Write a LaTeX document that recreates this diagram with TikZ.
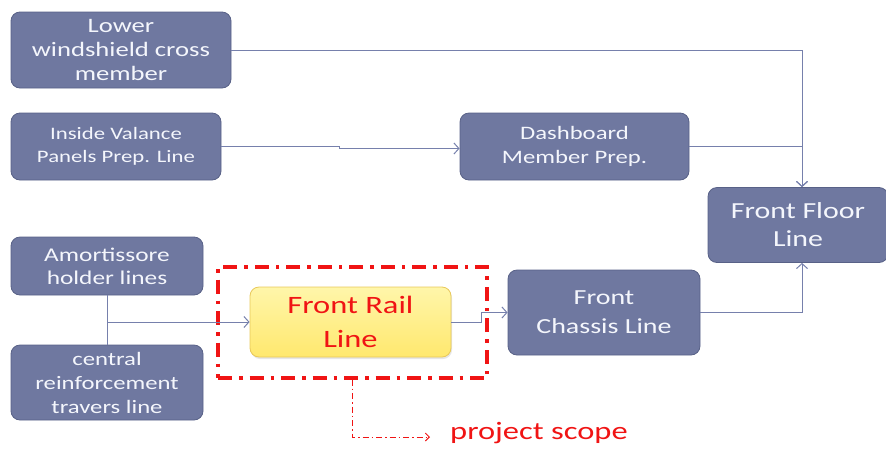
\documentclass[tikz,border=0pt]{standalone}
\usepackage{fontspec}
\setmainfont{Carlito}[FakeStretch=1.3]
\usetikzlibrary{arrows.meta,shadows}
\definecolor{boxfill}{RGB}{111,120,160}
\definecolor{boxedge}{RGB}{88,97,135}
\definecolor{boxtext}{RGB}{244,246,252}
\definecolor{flowc}{RGB}{118,128,172}
\definecolor{railtop}{RGB}{255,246,170}
\definecolor{railbot}{RGB}{255,232,110}
\definecolor{railedge}{RGB}{232,200,90}
\definecolor{scopered}{RGB}{240,20,20}
\tikzset{
  proc/.style={draw=boxedge, fill=boxfill, rounded corners=9pt, line width=0.8pt,
    text=boxtext, align=center, inner sep=0pt},
  rail/.style={draw=railedge, top color=railtop, bottom color=railbot, rounded corners=9pt,
    line width=0.8pt, text=scopered, align=center, inner sep=0pt,
    drop shadow={opacity=0.2, shadow xshift=1pt, shadow yshift=-2pt}},
  conn/.style={draw=flowc, line width=1pt},
  flow/.style={conn, -{Straight Barb[length=5pt,width=11pt,line width=1pt]}},
  scopebox/.style={draw=scopered, line width=3.4pt,
    dash pattern=on 14pt off 7pt on 3.5pt off 7pt, minimum width=269pt, minimum height=111pt},
  scopeptr/.style={draw=scopered, line width=0.9pt,
    dash pattern=on 6pt off 3pt on 1.5pt off 3pt,
    -{Straight Barb[length=4pt,width=8pt,line width=0.9pt]}},
}
\begin{document}
\begin{tikzpicture}[x=1pt,y=-1pt]
\useasboundingbox (0,0) rectangle (886,448);

% process boxes
\node[proc, minimum width=220pt, minimum height=76pt, font=\fontsize{20.5}{24}\selectfont]
  (lw) at (121,50) {Lower\\windshield cross\\member};
\node[proc, minimum width=210pt, minimum height=67pt, font=\fontsize{17.5}{23}\selectfont]
  (iv) at (116,146.5) {Inside Valance\\Panels Prep. Line};
\node[proc, minimum width=229pt, minimum height=67pt, font=\fontsize{19}{24}\selectfont]
  (db) at (574.5,146.5) {Dashboard\\Member Prep.};
\node[proc, minimum width=180pt, minimum height=75pt, font=\fontsize{23}{28}\selectfont]
  (ff) at (798,225) {Front Floor\\Line};
\node[proc, minimum width=192pt, minimum height=58pt, font=\fontsize{19.5}{23}\selectfont]
  (am) at (107,266) {Amortissore\\holder lines};
\node[proc, minimum width=192pt, minimum height=75pt, font=\fontsize{19}{24}\selectfont]
  (cr) at (107,382.5) {central\\reinforcement\\travers line};
\node[rail, minimum width=201pt, minimum height=70pt, font=\fontsize{25}{34}\selectfont]
  (fr) at (350.5,322) {Front Rail\\Line};
\node[proc, minimum width=192pt, minimum height=85pt, font=\fontsize{21.5}{29}\selectfont]
  (fc) at (604,312.5) {Front\\Chassis Line};

% project scope frame and its label
\node[scopebox] (sc) at (352.5,322.5) {};
\node[anchor=west, text=scopered, font=\fontsize{25}{28}\selectfont, inner sep=0pt]
  (ps) at (450,433) {project scope};
\coordinate (pst) at (430,437);
\draw[scopeptr] (sc.south) |- (pst);

% connectors
\draw[flow] (lw.east) -| ([xshift=4pt]ff.north);
\draw[flow] (db.east) -| ([xshift=4pt]ff.north);
\draw[flow] (iv.east) -- ++(118,0) -- ++(0,2) -- ([yshift=-2pt]db.west);
\draw[conn] (am.south) -- (cr.north);
\draw[flow] (am.south |- fr.west) -- (fr.west);
\draw[flow] (fr.east) -- ++(30,0) |- (fc.west);
\draw[flow] (fc.east) -| ([xshift=4pt]ff.south);
\end{tikzpicture}
\end{document}
